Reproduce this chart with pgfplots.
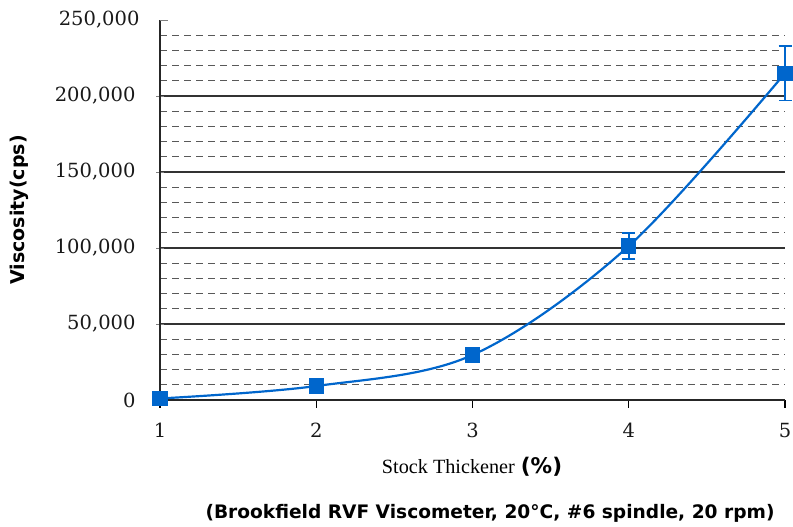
\documentclass[border=0pt]{standalone}
\usepackage{fontspec}
\setmainfont{DejaVu Serif}
\newfontfamily\dvsans{DejaVu Sans}
\newfontfamily\libserif{Liberation Serif}
\usepackage{pgfplots}
\pgfplotsset{compat=1.18}
\definecolor{xlblue}{HTML}{0066CC}
\begin{document}
\begin{tikzpicture}[x=1bp,y=1bp]
\useasboundingbox (0,0) rectangle (793,527);
\begin{axis}[
  at={(160bp,127bp)}, anchor=south west,
  scale only axis, width=625bp, height=380bp,
  xmin=1, xmax=5, ymin=0, ymax=250000,
  axis x line=bottom, axis y line=left,
  axis line style={-, black!85, line width=1.1pt},
  xtick={1,2,3,4,5},
  ytick={0,50000,100000,150000,200000},
  extra y ticks={250000},
  extra y tick style={grid=none, major tick length=8bp, ytick align=inside},
  minor ytick={10000,20000,30000,40000,60000,70000,80000,90000,110000,120000,130000,140000,160000,170000,180000,190000,210000,220000,230000,240000},
  ymajorgrids, yminorgrids,
  major grid style={black!80, line width=1.1pt},
  minor grid style={black!65, dash pattern=on 7bp off 5bp, line width=1.2pt},
  minor tick length=0pt,
  xtick align=outside,
  xtick style={black, line width=1.1pt},
  major tick length=8bp,
  scaled y ticks=false,
  /pgf/number format/assume math mode=true,
  yticklabel style={/pgf/number format/fixed, /pgf/number format/1000 sep={,}, xshift=-17bp},
  ticklabel style={font=\fontsize{19.5bp}{22bp}\selectfont, black!90},
  xticklabel style={yshift=-12bp},
  ylabel={\dvsans\bfseries Viscosity(cps)},
  ylabel style={font=\fontsize{19bp}{22bp}\selectfont, at={(axis description cs:-0.225,0.5)}, anchor=center},
  xlabel={{\libserif\fontsize{20.2bp}{22bp}\selectfont Stock Thickener}\hspace{6bp}{\dvsans\bfseries\fontsize{21.5bp}{22bp}\selectfont (\%)}},
  xlabel style={at={(axis description cs:0.4992,-0.176)}, anchor=center},
  clip=false,
]
\addplot[xlblue, line width=2.2pt, smooth, tension=0.55, mark=square*, mark size=6.5bp,
  mark options={solid, fill=xlblue, draw=xlblue},
  error bars/.cd, y dir=both, y explicit,
  error bar style={xlblue, line width=1.5pt},
  error mark options={xlblue, line width=1.5pt, rotate=90, mark size=6.5bp}]
  coordinates {
  (1,1000) +- (0,0)
  (2,9200) +- (0,0)
  (3,29600) +- (0,0)
  (4,101300) +- (0,8500)
  (5,215000) +- (0,18000)
  };
\end{axis}
\node[font=\dvsans\bfseries\fontsize{18.6bp}{20bp}\selectfont] at (490,14) {(Brookfield RVF Viscometer, 20°C, \#6 spindle, 20 rpm)};
\end{tikzpicture}
\end{document}
